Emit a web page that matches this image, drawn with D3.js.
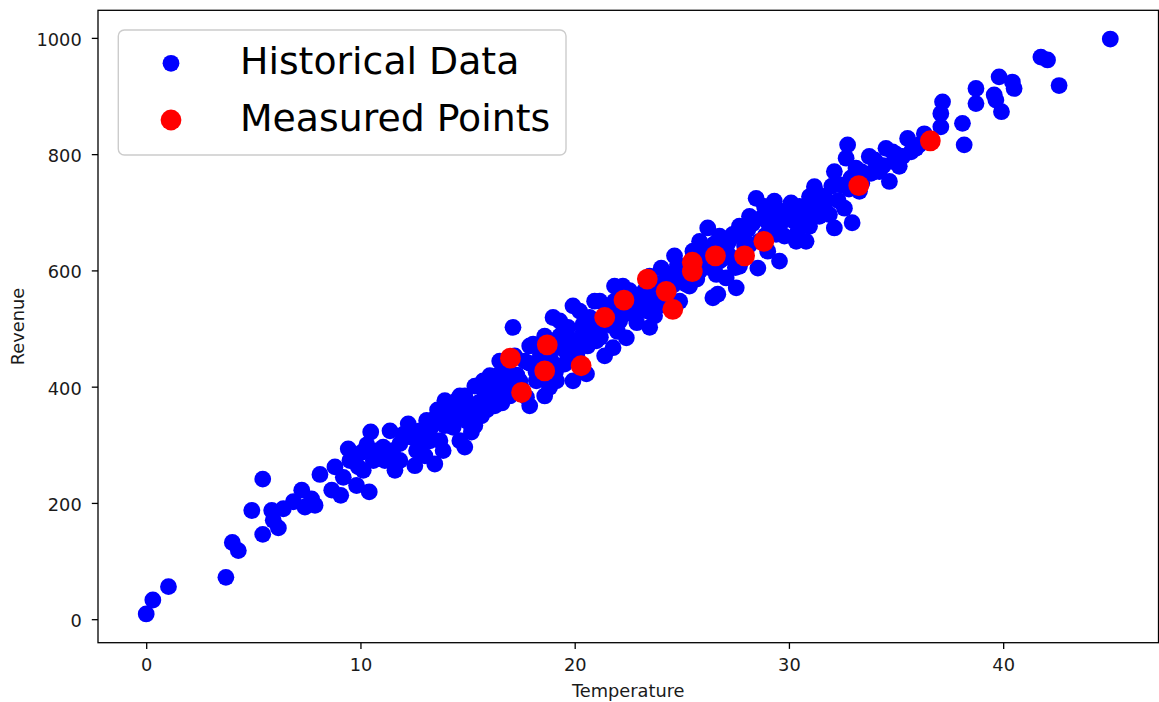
<!DOCTYPE html>
<html>
<head>
<meta charset="utf-8">
<script src="https://cdn.jsdelivr.net/npm/d3@7"></script>
<style>
  html, body { margin: 0; padding: 0; background: #ffffff; }
  svg { display: block; font-family: "DejaVu Sans", sans-serif; }
</style>
</head>
<body>
<svg id="chart" width="1159" height="702"></svg>
<script>
// Historical observations: temperature vs revenue
const historicalTemperature = [
  0.0, 0.31, 1.04, 3.72, 4.02, 4.30, 4.93, 5.44, 5.44, 5.86,
  5.93, 6.17, 6.40, 6.87, 7.26, 7.41, 7.72, 7.88, 8.11, 8.66,
  8.81, 9.08, 9.20, 9.43, 9.51, 9.82, 10.06, 10.13, 10.41, 10.48,
  10.60, 11.06, 11.22, 11.38, 11.14, 11.61, 11.84, 12.23, 12.39, 12.62,
  12.77, 13.09, 13.47, 13.47, 13.71, 13.86, 14.25, 14.33, 14.48, 14.87,
  14.87, 15.18, 15.26, 15.65, 15.73, 15.88, 16.19, 16.50, 16.66, 16.82,
  17.12, 17.67, 17.75, 18.06, 18.21, 18.83, 18.99, 19.15, 19.53, 19.92,
  19.92, 19.69, 16.50, 19.15, 19.45, 20.23, 20.39, 20.55, 20.70, 21.01,
  21.79, 21.86, 22.25, 22.41, 22.72, 23.03, 23.50, 23.65, 24.04, 24.51,
  24.90, 25.21, 25.52, 25.83, 26.21, 26.45, 27.07, 27.38, 27.54, 26.61,
  24.28, 26.68, 27.07, 28.08, 28.16, 28.47, 28.55, 28.70, 29.01, 29.32,
  29.40, 29.56, 29.79, 30.10, 30.26, 30.34, 30.80, 30.80, 31.19, 31.27,
  31.73, 31.89, 32.12, 32.12, 32.43, 32.59, 32.67, 32.74, 32.95, 32.90,
  33.13, 33.75, 33.83, 34.22, 34.69, 34.53, 34.84, 35.15, 35.30, 35.54,
  35.70, 35.93, 37.09, 37.09, 37.17, 38.10, 38.18, 38.73, 38.73, 39.58,
  39.66, 39.81, 39.92, 40.43, 40.51, 41.76, 42.07, 42.61, 45.00, 36.32,
  36.08, 17.44, 18.37, 18.60, 17.90, 16.97, 16.27, 15.34, 14.64, 13.94,
  13.24, 12.54, 11.84, 13.01, 19.30, 19.77, 20.70, 21.17, 21.40, 22.10,
  21.63, 22.80, 23.26, 23.96, 23.73, 24.43, 24.90, 25.36, 25.83, 26.06,
  26.76, 27.23, 27.69, 27.93, 28.62, 29.09, 29.79, 30.49, 30.02, 30.96,
  31.42, 31.66, 30.96, 30.49, 28.86, 28.16, 27.69, 26.76, 25.36, 24.66,
  24.20, 23.50, 22.56, 21.86, 21.17, 20.93, 20.23, 19.30, 18.60, 17.90,
  17.20, 16.50, 16.04, 15.34, 14.64, 13.94, 13.71, 14.41, 15.10, 15.80,
  33.38, 34.08, 34.92, 33.29,
  14.2, 14.8, 15.0, 15.5, 15.9, 16.3, 16.6, 16.9, 17.3, 17.5,
  17.9, 18.2, 18.4, 18.9, 19.1, 19.4, 19.6, 19.9, 20.1, 20.4,
  20.6, 20.9, 21.2, 21.5, 21.7, 22.0, 22.3, 22.6, 22.9, 23.2,
  23.4, 23.8, 24.0, 24.3, 24.6, 24.8, 25.1, 25.5, 25.7, 26.0,
  26.3, 26.5, 26.9, 27.2, 27.5, 27.8, 28.0, 28.3, 28.9, 29.2,
  29.6, 30.0, 30.4, 30.7, 31.0, 31.4, 31.6, 32.0, 32.3, 32.8,
  33.4, 34.0, 34.4, 35.0, 12.0, 12.9, 13.3, 13.6, 11.5, 10.8,
  9.9, 10.3
];
const historicalRevenue = [
  9, 33, 56, 72, 132, 118, 187, 241, 146, 187,
  170, 157, 190, 202, 222, 193, 207, 196, 249, 222,
  262, 213, 244, 293, 273, 230, 287, 256, 219, 322,
  273, 296, 279, 324, 273, 256, 302, 336, 313, 290,
  324, 342, 345, 267, 307, 290, 362, 330, 376, 384,
  296, 322, 356, 350, 410, 393, 376, 410, 387, 427,
  502, 444, 382, 473, 410, 399, 519, 467, 439, 539,
  410, 502, 422, 410, 473, 479, 507, 422, 519, 479,
  467, 547, 573, 484, 524, 536, 502, 547, 604, 593,
  547, 576, 633, 650, 673, 553, 587, 662, 570, 593,
  559, 559, 639, 670, 644, 724, 604, 690, 633, 719,
  662, 616, 702, 716, 684, 650, 650, 707, 744, 702,
  719, 696, 673, 770, 747, 707, 793, 816, 682, 759,
  776, 796, 767, 770, 753, 810, 804, 779, 796, 827,
  804, 810, 847, 870, 890, 853, 816, 913, 887, 902,
  893, 933, 873, 924, 913, 967, 962, 918, 998, 835,
  816, 410, 435, 384, 367, 384, 367, 333, 307, 333,
  307, 264, 273, 281, 487, 461, 479, 505, 453, 513,
  531, 547, 565, 556, 522, 573, 590, 573, 599, 625,
  616, 625, 607, 642, 650, 676, 659, 676, 693, 676,
  693, 727, 727, 710, 710, 693, 676, 659, 607, 625,
  582, 590, 565, 573, 547, 547, 530, 513, 487, 470,
  453, 444, 419, 401, 384, 376, 350, 342, 367, 384,
  770, 784, 787, 736,
  350, 362, 340, 372, 360, 395, 372, 405, 420, 398,
  440, 425, 455, 445, 425, 490, 460, 480, 455, 495,
  470, 500, 485, 530, 505, 495, 525, 545, 510, 555,
  530, 575, 540, 595, 575, 610, 590, 620, 585, 640,
  605, 645, 620, 650, 605, 660, 635, 680, 660, 695,
  680, 700, 665, 690, 715, 730, 705, 745, 720, 740,
  750, 790, 780, 800, 318, 305, 330, 360, 290, 290,
  262, 300
];

// Newly measured points
const measuredTemperature = [
  17.00, 17.52, 18.60, 18.72, 20.30, 21.40, 22.30, 23.39, 24.27,
  24.58, 25.49, 25.49, 26.57, 27.93, 28.83, 33.26, 36.60
];
const measuredRevenue = [
  449, 390, 427, 472, 436, 519, 549, 585, 564,
  533, 614, 598, 625, 625, 650, 746, 823
];

const xTickValues = [0, 10, 20, 30, 40];
const yTickValues = [0, 200, 400, 600, 800, 1000];
const seriesNames = ["Historical Data", "Measured Points"];
const seriesColors = ["blue", "red"];

const historical = historicalTemperature.map((t, i) => ({ t, r: historicalRevenue[i] }));
const measured = measuredTemperature.map((t, i) => ({ t, r: measuredRevenue[i] }));

// Axes box in pixels
const box = { left: 98, right: 1158.5, top: 10.3, bottom: 642.7 };

// 5% padding around the data range, as the plotting default does
function padded(ext) {
  const pad = (ext[1] - ext[0]) * 0.05;
  return [ext[0] - pad, ext[1] + pad];
}
const allT = historicalTemperature.concat(measuredTemperature);
const allR = historicalRevenue.concat(measuredRevenue);

const x = d3.scaleLinear().domain(padded(d3.extent(allT))).range([box.left, box.right]);
const y = d3.scaleLinear().domain(padded(d3.extent(allR))).range([box.bottom, box.top]);

const svg = d3.select("#chart");
const textColor = "#1a1a1a";
const tickFont = 17.8;

svg.append("defs").append("clipPath").attr("id", "plot-clip")
  .append("rect")
  .attr("x", box.left).attr("y", box.top)
  .attr("width", box.right - box.left).attr("height", box.bottom - box.top);

const plot = svg.append("g").attr("clip-path", "url(#plot-clip)");

plot.append("g").selectAll("circle")
  .data(historical)
  .join("circle")
  .attr("cx", d => x(d.t))
  .attr("cy", d => y(d.r))
  .attr("r", 8.4)
  .attr("fill", seriesColors[0]);

plot.append("g").selectAll("circle")
  .data(measured)
  .join("circle")
  .attr("cx", d => x(d.t))
  .attr("cy", d => y(d.r))
  .attr("r", 10.4)
  .attr("fill", seriesColors[1]);

// Axes
const xAxis = svg.append("g")
  .attr("transform", `translate(0,${box.bottom})`)
  .call(d3.axisBottom(x).tickValues(xTickValues).tickFormat(d3.format("d"))
    .tickSize(6.2).tickPadding(9.3));
const yAxis = svg.append("g")
  .attr("transform", `translate(${box.left},0)`)
  .call(d3.axisLeft(y).tickValues(yTickValues).tickFormat(d3.format("d"))
    .tickSize(6.2).tickPadding(10.1));

[xAxis, yAxis].forEach(g => {
  g.select(".domain").remove();
  g.selectAll(".tick line").attr("stroke", "#000").attr("stroke-width", 1.3);
  g.selectAll(".tick text")
    .attr("fill", textColor)
    .style("font-family", "'DejaVu Sans', sans-serif")
    .style("font-size", tickFont + "px");
});
yAxis.selectAll(".tick text").attr("dy", "0.42em");

// Frame around the axes
svg.append("rect")
  .attr("x", box.left).attr("y", box.top)
  .attr("width", box.right - box.left).attr("height", box.bottom - box.top)
  .attr("fill", "none")
  .attr("stroke", "#000")
  .attr("stroke-width", 1.3);

// Axis titles
svg.append("text")
  .attr("x", (box.left + box.right) / 2)
  .attr("y", 696.5)
  .attr("text-anchor", "middle")
  .attr("fill", textColor)
  .style("font-size", tickFont + "px")
  .text("Temperature");

svg.append("text")
  .attr("transform", `translate(23.8,${(box.top + box.bottom) / 2}) rotate(-90)`)
  .attr("text-anchor", "middle")
  .attr("fill", textColor)
  .style("font-size", tickFont + "px")
  .text("Revenue");

// Legend
const legend = svg.append("g");
legend.append("rect")
  .attr("x", 118.3).attr("y", 30)
  .attr("width", 566 - 118.3).attr("height", 155 - 30)
  .attr("rx", 6).attr("ry", 6)
  .attr("fill", "#ffffff").attr("fill-opacity", 0.8)
  .attr("stroke", "#cccccc").attr("stroke-width", 1.4);

const legendRows = [
  { name: seriesNames[0], color: seriesColors[0], r: 8.4, cy: 63.3, base: 74.3 },
  { name: seriesNames[1], color: seriesColors[1], r: 10.4, cy: 120, base: 131 }
];
legendRows.forEach(row => {
  legend.append("circle")
    .attr("cx", 171).attr("cy", row.cy).attr("r", row.r)
    .attr("fill", row.color);
  legend.append("text")
    .attr("x", 240).attr("y", row.base)
    .attr("fill", "#000")
    .style("font-size", "37.8px")
    .text(row.name);
});
</script>
</body>
</html>
